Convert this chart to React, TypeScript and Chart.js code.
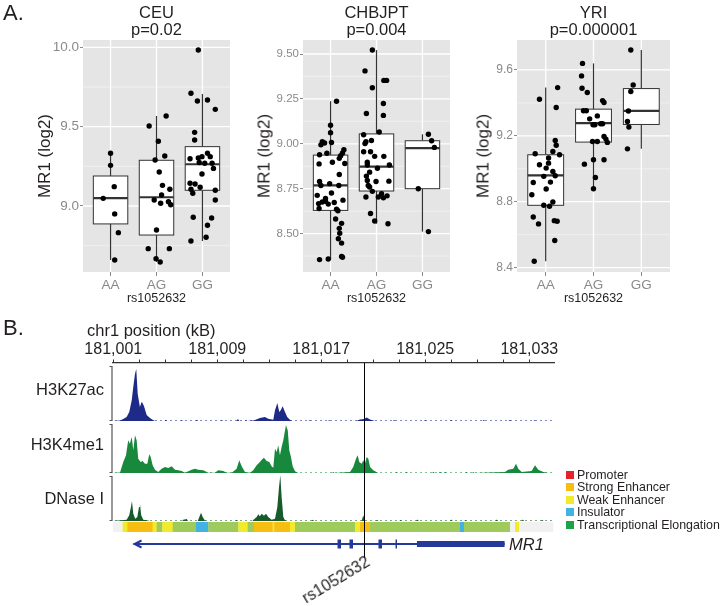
import React, { useEffect, useRef } from "react";
import { Chart, registerables } from "chart.js";

Chart.register(...registerables);

const FONT = '"Liberation Sans", Arial, Helvetica, sans-serif';
Chart.defaults.font.family = FONT;

// ---------------- Panel A data ----------------
const genotypes = ["AA", "AG", "GG"];

// CEU
const ceuAAValues = [9.332, 9.256, 9.122, 9.048, 8.95, 8.832, 8.66];
const ceuAAJitter = [0.0, 0.0, 0.08, -0.16, 0.09, 0.17, 0.09];
const ceuAGValues = [9.504, 9.567, 9.408, 9.29, 9.315, 9.214, 9.13, 9.105, 9.069, 9.038, 9.017, 9.027, 9.008, 8.849, 8.731, 8.731, 8.668, 8.647];
const ceuAGJitter = [-0.16, 0.21, 0.04, -0.03, 0.18, 0.06, 0.13, 0.29, 0.11, -0.05, 0.09, 0.26, 0.31, 0.0, -0.18, 0.28, -0.01, 0.08];
const ceuGGValues = [9.983, 9.71, 9.662, 9.668, 9.609, 9.464, 9.416, 9.298, 9.303, 9.311, 9.332, 9.311, 9.274, 9.269, 9.269, 9.237, 9.202, 9.143, 9.139, 9.118, 9.105, 9.08, 9.099, 9.038, 8.929, 8.924, 8.879, 8.803, 8.779];
const ceuGGJitter = [-0.09, -0.25, -0.11, 0.11, 0.28, -0.17, -0.17, -0.27, -0.09, -0.01, 0.11, 0.17, -0.07, 0.05, 0.21, 0.24, -0.01, -0.27, -0.16, -0.05, -0.25, -0.21, 0.28, 0.28, -0.2, 0.2, 0.11, 0.08, -0.25];
const ceuLow = [8.66, 8.647, 8.779];
const ceuQ1 = [8.887, 8.817, 9.099];
const ceuMedian = [9.05, 9.055, 9.263];
const ceuQ3 = [9.189, 9.288, 9.374];
const ceuHigh = [9.332, 9.567, 9.706];
const ceuYTicks = [9.0, 9.5, 10.0];
const ceuYTickLabels = ["9.0", "9.5", "10.0"];
const ceuYMinor = [8.75, 9.25, 9.75];

// CHBJPT
const chbAAValues = [9.237, 9.103, 9.062, 9.011, 9.004, 8.994, 9.007, 8.947, 8.939, 8.934, 8.919, 8.967, 8.949, 8.89, 8.888, 8.897, 8.829, 8.778, 8.79, 8.768, 8.768, 8.713, 8.726, 8.695, 8.686, 8.667, 8.676, 8.68, 8.664, 8.673, 8.64, 8.636, 8.627, 8.581, 8.557, 8.529, 8.502, 8.471, 8.447, 8.355, 8.358, 8.373, 8.368];
const chbAAJitter = [0.13, 0.0, 0.0, -0.18, -0.13, -0.21, 0.02, -0.08, -0.24, 0.22, 0.19, 0.29, 0.26, 0.31, -0.25, 0.04, 0.19, -0.02, -0.24, -0.21, 0.18, -0.29, 0.02, -0.11, 0.27, -0.26, -0.18, -0.11, -0.05, 0.08, -0.25, 0.13, 0.16, 0.11, 0.24, 0.19, 0.2, 0.17, 0.24, -0.24, -0.05, 0.24, 0.26];
const chbAGValues = [9.522, 9.406, 9.312, 9.353, 9.353, 9.224, 9.158, 9.169, 9.05, 9.066, 9.011, 9.002, 9.018, 8.956, 8.956, 8.93, 8.93, 8.897, 8.882, 8.864, 8.882, 8.842, 8.82, 8.796, 8.768, 8.79, 8.792, 8.759, 8.735, 8.722, 8.704, 8.704, 8.699, 8.71, 8.612, 8.57, 8.555];
const chbAGJitter = [-0.09, -0.25, -0.09, 0.16, 0.22, 0.15, 0.15, -0.22, -0.28, 0.06, -0.23, -0.25, -0.11, -0.28, -0.13, -0.04, 0.16, -0.2, -0.2, 0.02, 0.28, -0.15, -0.22, -0.2, -0.18, -0.01, 0.27, -0.15, -0.09, 0.11, -0.23, 0.04, 0.15, 0.23, -0.13, -0.04, 0.25];
const chbGGValues = [9.053, 9.017, 8.98, 8.75, 8.511];
const chbGGJitter = [0.13, 0.2, 0.26, -0.09, 0.13];
const chbLow = [8.355, 8.555, 8.511];
const chbQ1 = [8.629, 8.737, 8.75];
const chbMedian = [8.768, 8.873, 8.976];
const chbQ3 = [8.937, 9.055, 9.017];
const chbHigh = [9.237, 9.522, 9.053];
const chbYTicks = [8.5, 8.75, 9.0, 9.25, 9.5];
const chbYTickLabels = ["8.50", "8.75", "9.00", "9.25", "9.50"];
const chbYMinor = [8.375, 8.625, 8.875, 9.125, 9.375];

// YRI
const yriAAValues = [9.493, 9.422, 9.372, 9.172, 9.143, 9.091, 9.085, 9.105, 9.065, 9.034, 9.024, 9.004, 8.984, 8.958, 8.954, 8.919, 8.917, 8.877, 8.842, 8.798, 8.778, 8.772, 8.707, 8.665, 8.685, 8.681, 8.564, 8.438];
const yriAAJitter = [0.25, -0.13, 0.22, 0.2, 0.22, -0.22, 0.29, 0.15, 0.06, 0.06, -0.13, 0.01, 0.15, 0.2, -0.04, 0.1, -0.26, 0.01, -0.29, 0.15, -0.04, 0.08, -0.26, -0.15, 0.18, 0.24, 0.19, -0.24];
const yriAGValues = [9.64, 9.564, 9.489, 9.463, 9.414, 9.402, 9.352, 9.352, 9.321, 9.303, 9.267, 9.267, 9.273, 9.273, 9.196, 9.18, 9.16, 9.166, 9.166, 9.055, 9.055, 9.028, 8.947, 8.879];
const yriAGJitter = [-0.23, -0.25, -0.24, -0.13, 0.19, 0.22, -0.21, -0.15, 0.08, -0.08, -0.01, 0.03, 0.15, 0.19, 0.22, 0.26, 0.29, -0.02, 0.08, 0.0, 0.22, -0.19, 0.04, 0.0];
const yriGGValues = [9.721, 9.509, 9.469, 9.351, 9.287, 9.253, 9.121];
const yriGGJitter = [-0.22, -0.17, -0.22, -0.27, -0.29, -0.26, -0.29];
const yriLow = [8.438, 8.879, 9.121];
const yriQ1 = [8.778, 9.162, 9.269];
const yriMedian = [8.96, 9.277, 9.352];
const yriQ3 = [9.085, 9.362, 9.487];
const yriHigh = [9.493, 9.64, 9.721];
const yriYTicks = [8.4, 8.8, 9.2, 9.6];
const yriYTickLabels = ["8.4", "8.8", "9.2", "9.6"];
const yriYMinor = [8.6, 9.0, 9.4];

// ---------------- Panel B data ----------------
const genomeTicks = [181001, 181003, 181005, 181007, 181009, 181011, 181013, 181015, 181017, 181019, 181021, 181023, 181025, 181027, 181029, 181031, 181033];
const genomeLabelTicks = [181001, 181009, 181017, 181025, 181033];
const snpPosition = 181020.29;

const h3k27acSignal: [number, number][] = [
  [181000.98, 0], [181001.52, 0.5], [181001.77, 2], [181002.03, 4], [181002.23, 9], [181002.42, 20.7], [181002.54, 34], [181002.67, 47], [181002.77, 52], [181002.88, 27], [181003.05, 14], [181003.18, 19], [181003.25, 18], [181003.36, 15], [181003.57, 6], [181003.82, 3], [181004.03, 1.3], [181004.21, 0],
  [181004.95, 0], [181005.05, 1.2], [181005.15, 0],
  [181006.2, 0], [181006.28, 1], [181006.36, 0],
  [181007.35, 0], [181007.44, 1.2], [181007.53, 0],
  [181009.28, 0], [181009.36, 1], [181009.44, 0],
  [181010.48, 0], [181010.59, 2], [181010.7, 0],
  [181011.13, 0], [181011.21, 1], [181011.29, 0],
  [181011.75, 0.5], [181011.9, 1], [181012.28, 3], [181012.67, 4], [181012.92, 2.3], [181013.31, 1.3], [181013.44, 10.7], [181013.62, 18], [181013.77, 9], [181013.88, 10.7], [181014.03, 14.7], [181014.21, 9], [181014.38, 4], [181014.59, 1.3], [181014.75, 0],
  [181016.0, 0], [181016.1, 0.8], [181016.2, 0],
  [181017.5, 0], [181017.6, 0.8], [181017.7, 0],
  [181019.67, 0], [181019.98, 1.5], [181020.28, 2], [181020.49, 3.5], [181020.75, 1.5], [181021.13, 0],
  [181022.5, 0], [181022.6, 1], [181022.7, 0],
  [181024.9, 0], [181025.0, 1], [181025.1, 0],
  [181026.9, 0], [181027.0, 1], [181027.1, 0],
  [181029.4, 0], [181029.5, 1], [181029.6, 0],
  [181031.4, 0], [181031.5, 1], [181031.6, 0],
  [181033.3, 0], [181033.4, 0.8], [181033.5, 0],
  [181034.9, 0],
];

const h3k4me1Signal: [number, number][] = [
  [181000.98, 0], [181001.52, 0.5], [181001.77, 11], [181001.98, 17.7], [181002.15, 32.7], [181002.28, 29.3], [181002.42, 36], [181002.54, 22.7], [181002.67, 37.7], [181002.8, 32.7], [181002.92, 14.3], [181003.11, 11], [181003.26, 12], [181003.44, 9.3], [181003.62, 9.3], [181003.77, 18.7], [181003.88, 16], [181004.03, 7.7], [181004.21, 3.3], [181004.46, 1],
  [181004.72, 4.3], [181004.98, 6], [181005.23, 5], [181005.49, 6.7], [181005.75, 3.3], [181006.0, 2.7], [181006.26, 2], [181006.52, 0.3],
  [181007.03, 3.3], [181007.28, 4.3], [181007.54, 3.3], [181007.92, 2.7], [181008.31, 0.3], [181008.82, 0.3], [181009.08, 2.7], [181009.46, 2], [181009.72, 0.3], [181010.11, 0.3],
  [181010.49, 4.3], [181010.69, 12.7], [181010.88, 6.7], [181011.13, 1], [181011.52, 0.3],
  [181011.77, 2.7], [181012.03, 7.7], [181012.28, 11], [181012.42, 13.3], [181012.59, 15.3], [181012.8, 12], [181013.0, 11], [181013.18, 6.7], [181013.31, 5.3], [181013.44, 24.3], [181013.57, 21], [181013.69, 27.7], [181013.82, 17.7], [181013.95, 26], [181014.08, 32.7], [181014.28, 47.7], [181014.42, 42.7], [181014.54, 22.7], [181014.67, 16], [181014.8, 6.7], [181014.98, 1.7], [181015.23, 0],
  [181017.82, 0], [181017.92, 1], [181018.02, 0],
  [181019.21, 1], [181019.46, 6], [181019.67, 14.3], [181019.8, 17.7], [181019.92, 11], [181020.11, 9.3], [181020.23, 12.7], [181020.36, 9.3], [181020.49, 16], [181020.62, 14.3], [181020.75, 6], [181021.0, 2.7], [181021.38, 0],
  [181022.7, 0], [181022.8, 1], [181022.9, 0],
  [181023.47, 0], [181023.57, 1], [181023.67, 0],
  [181025.52, 0], [181025.62, 1.3], [181025.72, 0],
  [181026.03, 0], [181026.13, 1.3], [181026.23, 0],
  [181026.42, 0], [181026.52, 1.3], [181026.62, 0],
  [181028.08, 0], [181028.18, 1], [181028.28, 0],
  [181028.59, 0], [181028.69, 1], [181028.79, 0],
  [181031.13, 1], [181031.38, 3.3], [181031.77, 4.3], [181031.98, 9.3], [181032.15, 4.3], [181032.42, 1],
  [181033.18, 2], [181033.44, 7.7], [181033.69, 3.3], [181034.08, 1], [181034.46, 0], [181034.9, 0],
];

const dnaseSignal: [number, number][] = [
  [181000.98, 0], [181002.03, 1.3], [181002.23, 5.7], [181002.36, 14], [181002.44, 20], [181002.54, 7.3], [181002.69, 2.3], [181002.85, 4], [181002.98, 14], [181003.05, 17.3], [181003.15, 5.7], [181003.31, 1.3], [181003.57, 0.7], [181003.8, 0],
  [181006.3, 0], [181006.38, 1.3], [181006.65, 2], [181006.75, 0],
  [181007.5, 0], [181007.62, 4], [181007.75, 8.3], [181007.88, 4], [181008.05, 0.5], [181008.2, 0],
  [181010.4, 0], [181010.49, 1.3], [181010.6, 0],
  [181011.7, 0], [181011.77, 1], [181012.03, 4], [181012.15, 6.7], [181012.28, 4.7], [181012.42, 7.3], [181012.59, 5.3], [181012.75, 7.3], [181012.92, 4], [181013.18, 1.3], [181013.44, 2.3], [181013.62, 14], [181013.75, 34], [181013.85, 45.7], [181013.95, 24], [181014.08, 4], [181014.21, 0.7], [181014.35, 0],
  [181016.25, 0], [181016.34, 1.3], [181016.45, 0],
  [181020.1, 0], [181020.23, 5.7], [181020.36, 0],
  [181021.2, 0], [181021.3, 1], [181021.4, 0],
  [181023.0, 0], [181023.1, 1], [181023.2, 0],
  [181024.3, 0], [181024.4, 1.5], [181024.5, 0],
  [181026.9, 0], [181027.0, 1.5], [181027.1, 0],
  [181028.0, 0], [181028.1, 1], [181028.2, 0],
  [181030.4, 0], [181030.5, 1.5], [181030.6, 0],
  [181032.4, 0], [181032.5, 1.5], [181032.6, 0],
  [181033.9, 0], [181034.0, 1], [181034.1, 0],
  [181034.9, 0],
];

const chromatinSegments: [number, number, string][] = [
  [181000.98, 181001.72, "quiescent"],
  [181001.72, 181002.08, "weak"],
  [181002.08, 181004.03, "strong"],
  [181004.03, 181004.34, "weak"],
  [181004.34, 181004.77, "transcribed"],
  [181004.77, 181005.57, "weak"],
  [181005.57, 181007.36, "transcribed"],
  [181007.36, 181008.31, "insulator"],
  [181008.31, 181010.62, "transcribed"],
  [181010.62, 181011.34, "weak"],
  [181011.34, 181011.82, "transcribed"],
  [181011.82, 181013.26, "strong"],
  [181013.26, 181013.38, "weak"],
  [181013.38, 181014.59, "strong"],
  [181014.59, 181014.98, "weak"],
  [181014.98, 181019.59, "transcribed"],
  [181019.59, 181019.98, "weak"],
  [181019.98, 181020.75, "strong"],
  [181020.75, 181027.67, "transcribed"],
  [181027.67, 181027.98, "insulator"],
  [181027.98, 181031.52, "transcribed"],
  [181031.52, 181031.9, "quiescent"],
  [181031.9, 181032.21, "weak"],
  [181032.21, 181034.82, "quiescent"],
];
const stateColors: Record<string, string> = {
  promoter: "#E52229",
  strong: "#F7BE12",
  weak: "#F2EA2C",
  insulator: "#42B2E4",
  elongation: "#1DA24C",
  transcribed: "#9FCB5C",
  quiescent: "#F1F1F1",
};
const legendNames = ["Promoter", "Strong Enhancer", "Weak Enhancer", "Insulator", "Transcriptional Elongation"];
const legendStates = ["promoter", "strong", "weak", "insulator", "elongation"];

const geneStart = 181002.56;
const geneEnd = 181031.1;
const geneThickStart = 181024.36;
const geneExons: [number, number][] = [
  [181018.25, 181018.52],
  [181019.17, 181019.44],
  [181021.4, 181021.67],
  [181022.71, 181022.78],
];

// ---------------- Components ----------------
type Panel = {
  groups: { values: number[]; jitter: number[] }[];
  low: number[]; q1: number[]; median: number[]; q3: number[]; high: number[];
  yMin: number; yMax: number; yTicks: number[]; yTickLabels: string[]; yMinor: number[];
  tickFont: number; canvasLeft: number; canvasWidth: number; axisWidth: number;
};

const panels: Panel[] = [
  {
    groups: [{ values: ceuAAValues, jitter: ceuAAJitter }, { values: ceuAGValues, jitter: ceuAGJitter }, { values: ceuGGValues, jitter: ceuGGJitter }],
    low: ceuLow, q1: ceuQ1, median: ceuMedian, q3: ceuQ3, high: ceuHigh,
    yMin: 8.584, yMax: 10.046, yTicks: ceuYTicks, yTickLabels: ceuYTickLabels, yMinor: ceuYMinor,
    tickFont: 13.5, canvasLeft: 0, canvasWidth: 240, axisWidth: 83,
  },
  {
    groups: [{ values: chbAAValues, jitter: chbAAJitter }, { values: chbAGValues, jitter: chbAGJitter }, { values: chbGGValues, jitter: chbGGJitter }],
    low: chbLow, q1: chbQ1, median: chbMedian, q3: chbQ3, high: chbHigh,
    yMin: 8.286, yMax: 9.578, yTicks: chbYTicks, yTickLabels: chbYTickLabels, yMinor: chbYMinor,
    tickFont: 11.5, canvasLeft: 240, canvasWidth: 220, axisWidth: 63,
  },
  {
    groups: [{ values: yriAAValues, jitter: yriAAJitter }, { values: yriAGValues, jitter: yriAGJitter }, { values: yriGGValues, jitter: yriGGJitter }],
    low: yriLow, q1: yriQ1, median: yriMedian, q3: yriQ3, high: yriHigh,
    yMin: 8.373, yMax: 9.782, yTicks: yriYTicks, yTickLabels: yriYTickLabels, yMinor: yriYMinor,
    tickFont: 12, canvasLeft: 480, canvasWidth: 200, axisWidth: 37,
  },
];

function hline(ctx: any, x1: number, x2: number, y: number) {
  ctx.beginPath(); ctx.moveTo(x1, y); ctx.lineTo(x2, y); ctx.stroke();
}
function vline(ctx: any, x: number, y1: number, y2: number) {
  ctx.beginPath(); ctx.moveTo(x, y1); ctx.lineTo(x, y2); ctx.stroke();
}

function BoxChart({ p }: { p: Panel }) {
  const ref = useRef<HTMLCanvasElement>(null);
  useEffect(() => {
    const points = p.groups.flatMap((g, gi) => g.values.map((v, i) => ({ x: gi + 1 + g.jitter[i], y: v })));
    const plugin = {
      id: "ggbox",
      beforeDatasetsDraw(chart: any) {
        const { ctx, chartArea: a, scales } = chart;
        const xs = scales.x, ys = scales.y;
        ctx.save();
        ctx.fillStyle = "#E5E5E5";
        ctx.fillRect(a.left, a.top, a.right - a.left, a.bottom - a.top);
        ctx.strokeStyle = "#F3F3F3"; ctx.lineWidth = 0.8;
        p.yMinor.forEach((v) => { const py = ys.getPixelForValue(v); if (py >= a.top && py <= a.bottom) hline(ctx, a.left, a.right, py); });
        ctx.strokeStyle = "#FFFFFF"; ctx.lineWidth = 1.3;
        p.yTicks.forEach((v) => hline(ctx, a.left, a.right, ys.getPixelForValue(v)));
        genotypes.forEach((_, i) => vline(ctx, xs.getPixelForValue(i + 1), a.top, a.bottom));
        ctx.strokeStyle = "#333333";
        genotypes.forEach((_, i) => {
          const cx = xs.getPixelForValue(i + 1);
          const hw = xs.getPixelForValue(i + 1.375) - cx;
          const yl = ys.getPixelForValue(p.low[i]);
          const y1 = ys.getPixelForValue(p.q1[i]);
          const ym = ys.getPixelForValue(p.median[i]);
          const y3 = ys.getPixelForValue(p.q3[i]);
          const yh = ys.getPixelForValue(p.high[i]);
          ctx.lineWidth = 1.2;
          vline(ctx, cx, yh, y3);
          vline(ctx, cx, y1, yl);
          ctx.fillStyle = "#FFFFFF";
          ctx.fillRect(cx - hw, y3, 2 * hw, y1 - y3);
          ctx.lineWidth = 1;
          ctx.strokeRect(cx - hw, y3, 2 * hw, y1 - y3);
          ctx.lineWidth = 2.2;
          hline(ctx, cx - hw, cx + hw, ym);
        });
        ctx.restore();
      },
    };
    const chart = new Chart(ref.current as HTMLCanvasElement, {
      type: "scatter",
      data: { datasets: [{ data: points, pointRadius: 2.7, pointBackgroundColor: "#000", pointBorderWidth: 0, backgroundColor: "#000" }] },
      options: {
        animation: false,
        responsive: false,
        maintainAspectRatio: false,
        layout: { padding: { top: 40, right: 10, left: 0, bottom: 0 } },
        plugins: { legend: { display: false }, tooltip: { enabled: false }, title: { display: false } },
        scales: {
          x: {
            type: "linear", min: 0.4, max: 3.6,
            afterBuildTicks: (s: any) => { s.ticks = genotypes.map((_, i) => ({ value: i + 1 })); },
            afterFit: (s: any) => { s.height = 38; },
            ticks: { callback: (_v: any, i: number) => genotypes[i], color: "#8A8A8A", font: { size: 13.5, family: FONT }, padding: 1, maxRotation: 0, autoSkip: false },
            grid: { drawOnChartArea: false, tickLength: 4, tickColor: "#8A8A8A", tickWidth: 1 },
            border: { display: false },
          },
          y: {
            type: "linear", min: p.yMin, max: p.yMax,
            afterBuildTicks: (s: any) => { s.ticks = p.yTicks.map((v) => ({ value: v })); },
            afterFit: (s: any) => { s.width = p.axisWidth; },
            ticks: { callback: (_v: any, i: number) => p.yTickLabels[i], color: "#8A8A8A", font: { size: p.tickFont, family: FONT }, padding: 1, autoSkip: false },
            grid: { drawOnChartArea: false, tickLength: 3, tickColor: "#8A8A8A", tickWidth: 1 },
            border: { display: false },
          },
        },
      } as any,
      plugins: [plugin],
    } as any);
    return () => chart.destroy();
  }, []);
  return (
    <canvas ref={ref} width={p.canvasWidth} height={310}
      style={{ position: "absolute", left: p.canvasLeft, top: 0, width: p.canvasWidth, height: 310 }} />
  );
}

function TrackChart() {
  const ref = useRef<HTMLCanvasElement>(null);
  useEffect(() => {
    const trackIds = ["yK27", "yK4", "yDn"];
    const trackColors = ["#1E2A88", "#18893C", "#175A2B"];
    const plugin = {
      id: "tracks",
      beforeDatasetsDraw(chart: any) {
        const { ctx, chartArea: a, scales } = chart;
        ctx.save();
        trackIds.forEach((id, k) => {
          const s = scales[id];
          const top = s.top + 3.5, bot = s.bottom - 0.5;
          const bx = a.left - 1;
          ctx.strokeStyle = "#555555"; ctx.lineWidth = 1.2;
          ctx.beginPath(); ctx.moveTo(bx - 2.5, top); ctx.lineTo(bx, top); ctx.lineTo(bx, bot); ctx.lineTo(bx - 2.5, bot); ctx.stroke();
          ctx.strokeStyle = trackColors[k]; ctx.globalAlpha = 0.55; ctx.lineWidth = 1;
          ctx.setLineDash([2, 3]);
          hline(ctx, a.left + 2, a.right - 2, s.getPixelForValue(0) - 0.5);
          ctx.setLineDash([]); ctx.globalAlpha = 1;
        });
        ctx.restore();
      },
      afterDatasetsDraw(chart: any) {
        const { ctx, chartArea: a, scales } = chart;
        const xs = scales.x, an = scales.yAnno;
        ctx.save();
        const by1 = an.getPixelForValue(1), by2 = an.getPixelForValue(11);
        chromatinSegments.forEach(([s, e, st]) => {
          ctx.fillStyle = stateColors[st];
          const x1 = xs.getPixelForValue(s), x2 = xs.getPixelForValue(e);
          ctx.fillRect(x1, by1, x2 - x1 + 0.3, by2 - by1);
        });
        const gy = an.getPixelForValue(23);
        ctx.strokeStyle = "#25399B"; ctx.fillStyle = "#25399B";
        ctx.lineWidth = 2;
        const gx1 = xs.getPixelForValue(geneStart), gx2 = xs.getPixelForValue(geneEnd);
        hline(ctx, gx1, gx2, gy);
        ctx.beginPath(); ctx.moveTo(gx1 + 8, gy - 3.5); ctx.lineTo(gx1 + 1, gy); ctx.lineTo(gx1 + 8, gy + 3.5); ctx.stroke();
        const tx = xs.getPixelForValue(geneThickStart);
        ctx.fillRect(tx, gy - 3, gx2 - tx, 6);
        geneExons.forEach(([s, e]) => {
          const x1 = xs.getPixelForValue(s), x2 = xs.getPixelForValue(e);
          ctx.fillRect(x1, gy - 4.5, Math.max(x2 - x1, 1.5), 9);
        });
        ctx.strokeStyle = "#000"; ctx.lineWidth = 1;
        const sx = Math.round(xs.getPixelForValue(snpPosition)) + 0.5;
        vline(ctx, sx, a.top, an.getPixelForValue(37));
        ctx.restore();
      },
    };
    const mk = (sig: [number, number][], id: string, color: string) => ({
      data: sig.map(([x, y]) => ({ x, y })), yAxisID: id, borderColor: "rgba(0,0,0,0)", borderWidth: 0,
      backgroundColor: color, fill: "origin", pointRadius: 0, tension: 0,
    });
    const chart = new Chart(ref.current as HTMLCanvasElement, {
      type: "line",
      data: {
        datasets: [
          mk(h3k27acSignal, "yK27", trackColors[0]),
          mk(h3k4me1Signal, "yK4", trackColors[1]),
          mk(dnaseSignal, "yDn", trackColors[2]),
        ],
      },
      options: {
        animation: false,
        responsive: false,
        maintainAspectRatio: false,
        layout: { padding: { top: 0, right: 168, left: 113, bottom: 0 } },
        plugins: { legend: { display: false }, tooltip: { enabled: false }, title: { display: false } },
        scales: {
          x: {
            type: "linear", position: "top", min: 181000.98, max: 181034.9,
            afterBuildTicks: (s: any) => { s.ticks = genomeTicks.map((v) => ({ value: v })); },
            afterFit: (s: any) => { s.height = 33; },
            ticks: {
              callback: (v: any) => (genomeLabelTicks.includes(v) ? Number(v).toLocaleString("en-US") : ""),
              color: "#231F20", font: { size: 16, family: FONT }, padding: 0, maxRotation: 0, autoSkip: false,
            },
            grid: { drawOnChartArea: false, tickLength: 3.5, tickColor: "#333", tickWidth: 1 },
            border: { display: true, color: "#333", width: 1.3 },
          },
          yK27: { type: "linear", display: false, position: "left", min: 0, max: 58, stack: "trk", stackWeight: 58, weight: 4 },
          yK4: { type: "linear", display: false, position: "left", min: 0, max: 52, stack: "trk", stackWeight: 52, weight: 3 },
          yDn: { type: "linear", display: false, position: "left", min: 0, max: 48, stack: "trk", stackWeight: 48, weight: 2 },
          yAnno: { type: "linear", display: false, position: "left", min: 0, max: 85, reverse: true, stack: "trk", stackWeight: 85, weight: 1 },
        },
      } as any,
      plugins: [plugin],
    } as any);
    return () => chart.destroy();
  }, []);
  return (
    <canvas ref={ref} width={722} height={276}
      style={{ position: "absolute", left: 0, top: 330, width: 722, height: 276 }} />
  );
}

function Txt(props: { x: number; y: number; size: number; text: string; anchor?: string; color?: string; rotate?: number; italic?: boolean }) {
  const { x, y, size, text, anchor = "center", color = "#231F20", rotate = 0, italic = false } = props;
  const tx = anchor === "center" ? "-50%" : anchor === "right" ? "-100%" : "0";
  return (
    <div style={{
      position: "absolute", left: x, top: y, transform: `translate(${tx},-50%) rotate(${rotate}deg)`,
      fontSize: size, lineHeight: 1, whiteSpace: "nowrap", color, fontFamily: FONT, fontStyle: italic ? "italic" : "normal",
    }}>{text}</div>
  );
}

const panelTitles = ["CEU", "CHBJPT", "YRI"];
const panelPValues = ["p=0.02", "p=0.004", "p=0.000001"];
const panelCenters = [156.5, 376.5, 593.5];
const yLabelX = [43.5, 264, 483];

export default function App() {
  return (
    <div style={{ position: "absolute", left: 0, top: 0, width: 722, height: 606, background: "#fff", overflow: "hidden", fontFamily: FONT }}>
      {panels.map((p, i) => <BoxChart key={i} p={p} />)}
      <TrackChart />
      <Txt x={3} y={13} size={22} text="A." anchor="left" />
      <Txt x={3} y={328} size={22} text="B." anchor="left" />
      {panelTitles.map((t, i) => <Txt key={"t" + i} x={panelCenters[i]} y={11.5} size={16.5} text={t} />)}
      {panelPValues.map((t, i) => <Txt key={"p" + i} x={panelCenters[i]} y={28.5} size={16.5} text={t} />)}
      {yLabelX.map((x, i) => <Txt key={"y" + i} x={x} y={156} size={17} text="MR1 (log2)" rotate={-90} />)}
      {panelCenters.map((x, i) => <Txt key={"r" + i} x={x} y={298} size={12.5} text="rs1052632" />)}
      <Txt x={87} y={330} size={16.5} text="chr1 position (kB)" anchor="left" />
      <Txt x={104} y={389} size={16.5} text="H3K27ac" anchor="right" />
      <Txt x={104} y={444} size={16.5} text="H3K4me1" anchor="right" />
      <Txt x={104} y={498} size={16.5} text="DNase I" anchor="right" />
      <Txt x={509} y={544} size={16.5} text="MR1" anchor="left" italic />
      <Txt x={336} y={580} size={16} text="rs1052632" rotate={-31} />
      {legendNames.map((n, i) => (
        <React.Fragment key={"l" + i}>
          <div style={{ position: "absolute", left: 566, top: 474.5 + i * 12.6 - 4, width: 8, height: 8, background: stateColors[legendStates[i]] }} />
          <Txt x={577} y={474.5 + i * 12.6} size={12.4} text={n} anchor="left" />
        </React.Fragment>
      ))}
    </div>
  );
}
